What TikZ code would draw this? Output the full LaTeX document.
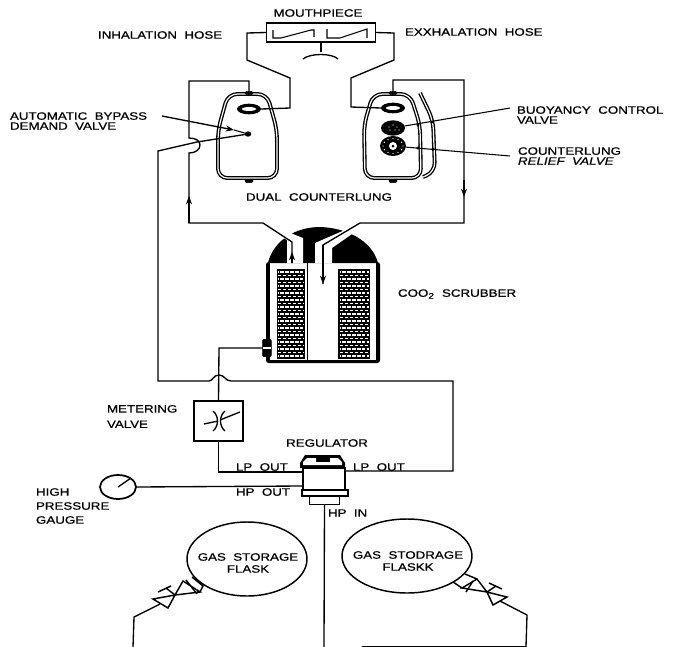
\documentclass[tikz,border=0pt]{standalone}
\usepackage{fontspec}
\setmainfont[FakeStretch=1.25,FakeBold=0.8]{Liberation Sans}
\usetikzlibrary{arrows.meta,shapes.geometric}
\begin{document}
\begin{tikzpicture}[x=0.75pt,y=-0.75pt,
  every node/.style = {inner sep=0pt, outer sep=0pt},
  lbl/.style = {font=\fontsize{8}{7.5}\selectfont, align=left},
  pipe/.style = {line width=1pt, line join=miter},
  arr/.style = {-{Stealth[length=2.2mm,width=1.6mm]}, line width=1pt},
  thinline/.style = {line width=0.8pt},
  wall/.style = {double, double distance=0.9pt, line width=1pt, rounded corners=7pt},
  part/.style = {draw, line width=1.1pt, fill=white},
  knob/.style = {draw, fill=black, rounded corners=1pt, minimum width=6pt, minimum height=2.4pt},
  bead/.style = {ellipse, fill=black, minimum width=18pt, minimum height=8pt},
  flask/.style = {align=center, font=\fontsize{8}{9}\selectfont},
]
\useasboundingbox (0,0) rectangle (676,647);

\node[part, minimum width=82pt, minimum height=14pt] (mouth) at (321,32.5) {};
\draw[thinline] (273,30) -- (273,38) -- (281,38) -- (311,30) -- (314,30) -- (314,37);
\draw[thinline] (327,29) -- (327,38) -- (340,38) -- (367,29) -- (367,38);
\coordinate (bite) at (321,52);
\draw[pipe] (mouth.south) -- (bite);
\draw[pipe] (303,59) .. controls (310,53) and (332,53) .. (338,59);

\draw[wall] (249,94) -- (267,94) -- (277,130) -- (277,178) -- (218,178) -- (218,130) -- (228,94) -- cycle;
\draw[wall] (392,94) -- (410,94) -- (420,125) -- (421,178) -- (365,178) -- (364,125) -- (373,94) -- cycle;
\draw[wall] (420,93) -- (433,120) -- (435,172) -- (423,177);

\node[knob] (topL) at (249,93) {};
\node[knob] (topR) at (393,93) {};
\node[knob] (footL) at (249,181) {};
\node[knob] (footR) at (393,181) {};
\node[bead] (valveL) at (249,109) {};
\node[bead] (valveR) at (393,108) {};
\fill[white] (valveL) ellipse (7 and 2);
\fill[white] (valveR) ellipse (7 and 2);
\node[ellipse, fill=black, minimum width=5pt, minimum height=4pt] (demand) at (248,134) {};
\node[ellipse, fill=black, minimum width=18pt, minimum height=11.5pt] (buoy) at (393,128) {};
\foreach \dx/\dy in {-4/-1,0/-3,4/-1,-3/2,2/2,6/2}
  \fill[white] (393+\dx,128+\dy) circle (0.7);
\node[ellipse, fill=black, minimum width=19.5pt, minimum height=15pt] (relief) at (393,146) {};
\foreach \a in {0,30,...,330}
  \fill[white] (393,146) ++(\a:10 and 7.5) circle (0.7);
\fill[white] (393,146) circle (4);
\fill[black] (393,146) circle (1.5);

\draw[pipe] (mouth.west) -- (247,33) -- (247,60) -- (290,78) -- (290,108) -- (valveL.east);
\draw[pipe] (mouth.east) -- (394,33) -- (394,60) -- (351,78) -- (351,107) -- (valveR.west);

\fill[black, rounded corners=2pt] (266,262) rectangle (380,363);
\fill[white] (270,263) rectangle (376,360);
\fill[black] (268,263) .. controls (272,245) and (290,228) .. (318,227) .. controls (345,227) and (372,240) .. (378,263) -- cycle;
\fill[white] (287,263) -- (287,240) -- (280,236) -- (288,232) -- (303,238) -- (303,263) -- cycle;
\fill[white] (315,263) -- (315,243) -- (345,230) -- (352,234) -- (332,248) -- (332,263) -- cycle;
\draw[line width=0.5pt] (307,263) -- (307,360);
\node[fill=black, minimum width=21pt, minimum height=67pt] (bedL) at (291,314) {};
\node[fill=black, minimum width=24pt, minimum height=67pt] (bedR) at (354,314) {};
\foreach \cx/\cw in {278/26,340/29}
  \foreach \y [count=\i] in {272,275.5,...,358} {
    \pgfmathsetmacro\off{mod(\i,2)*2}
    \draw[white, line width=0.9pt, dash pattern=on 2.6pt off 1.1pt, dash phase=\off pt] (\cx,\y) -- ++(\cw,0);
  }
\node[knob, minimum width=6.5pt, minimum height=13pt] (port) at (267,348) {};
\fill[white] (263,347) rectangle (271,349);

\coordinate (inL) at (292,263);
\coordinate (inR) at (323,284);
\coordinate (crossL) at (189,223);
\coordinate (crossR) at (464,223);
\draw[pipe] (topL) -- (249,81) -- (189,81) -- (189,138) .. controls (196,138) and (200,141) .. (200,145) .. controls (200,150) and (195,153) .. (189,153) -- (crossL) -- (263,223) -- (292,242) -- (inL);
\draw[arr] (crossL) -- (189,196);
\draw[arr] (inL) -- (292,252);
\draw[pipe] (topR) -- (393,80) -- (464,80) -- (crossR) -- (360,223) -- (323,245) -- (inR);
\draw[arr] (464,180) -- (464,197);
\draw[arr] (323,245) -- (inR);

\node[part, minimum width=37pt, minimum height=30pt] (meter) at (218.5,421) {};
\draw[line width=1pt] (213,411) .. controls (219,416) and (219,426) .. (213,431);
\draw[line width=1pt] (225,411) .. controls (219,416) and (219,426) .. (225,431);
\draw[line width=1pt] (204,424) -- (218,421);
\draw[line width=1pt] (220,420) -- (240,412);

\node[part, minimum width=31.5pt, minimum height=16.5pt] (regbody) at (324,479) {};
\fill[black] (300,468) -- (300,463) -- (305,455) -- (340,455) -- (345,463) -- (345,468) -- cycle;
\fill[white] (303,465) -- (303,462) -- (307,458) -- (316,458) -- (316,462) -- (330,462) -- (330,458) -- (338,458) -- (342,462) -- (342,465) -- cycle;
\node[part, line width=1.4pt, minimum width=34pt, minimum height=4.5pt] (regbase) at (325,493) {};
\node[part, line width=0.9pt, minimum width=23pt, minimum height=6pt] (regfoot) at (324.5,500.5) {};

\coordinate (lpL) at (303,472);
\coordinate (lpR) at (345,471);
\coordinate (hpL) at (303,486);
\draw[pipe] (port.west) -- (219,348) -- (meter.north);
\draw[pipe] (meter.south) -- (218.5,472) -- (lpL);
\draw[pipe] (demand) -- (197,142) -- (158,151) -- (158,381) -- (209,381) .. controls (213,381) and (213,375) .. (219,375) .. controls (225,375) and (225,381) .. (231,381) -- (453,381) -- (453,471) -- (lpR);

\node[ellipse, part, line width=1.3pt, minimum width=27pt, minimum height=18pt] (gauge) at (118,487) {};
\draw[line width=1pt] (gauge.center) -- (131,478);
\draw[pipe] (gauge.east) -- (hpL);

\node[flask] (flaskL) at (248,563) {GAS\ \ STORAGE\\FLASK};
\node[flask] (flaskR) at (408,561) {GAS\ \ STODRAGE\\FLASKK};
\draw[line width=1.1pt] (247,559) ellipse (60 and 37);
\draw[line width=1.1pt] (407,556) ellipse (65 and 37);
\coordinate (feed) at (324,647);
\draw[pipe] (regfoot.south) -- (feed);

\draw[line width=1.1pt, fill=white] (175,595) -- (153,599) -- (168,608) -- cycle;
\draw[line width=1.1pt, fill=white] (175,595) -- (183,581) -- (200,592) -- cycle;
\draw[line width=1.1pt] (186,580) -- (197,594);
\draw[line width=1.1pt] (192,577) -- (203,586) -- (200,592);
\draw[line width=1.1pt] (175,595) -- (166,588);
\draw[line width=1.1pt] (158,592) -- (171,586);
\draw[line width=1.1pt, fill=white] (487,592) -- (507,597) -- (493,605) -- cycle;
\draw[line width=1.1pt, fill=white] (487,592) -- (477,579) -- (462,588) -- cycle;
\draw[line width=1.1pt] (473,581) -- (466,592);
\draw[line width=1.1pt] (465,574) -- (477,579);
\draw[line width=1.1pt] (453,582) -- (462,588);
\draw[line width=1.1pt] (487,592) -- (496,586);
\draw[line width=1.1pt] (489,583) -- (502,589);
\draw[pipe] (160,604) -- (134,617) -- (133,647);
\draw[pipe] (500,601) -- (527,615) -- (526,647);
\draw[thinline] (526,646.6) -- (362,646.6);

\node[lbl] (mouthlbl) at (318,13) {MOUTHPIECE};
\node[lbl, anchor=west] (inhale) at (98,35) {INHALATION\ \ HOSE};
\node[lbl, anchor=west] (exhale) at (405,32) {EXXHALATION\ \ HOSE};
\node[lbl, anchor=west] (bypass) at (10,121) {AUTOMATIC\ \ BYPASS\\DEMAND\ \ VALVE};
\node[lbl, anchor=west] (buoylbl) at (517,115) {BUOYANCY\ \ CONTROL\\VALVE};
\node[lbl, anchor=west] (relieflbl) at (518,156) {COUNTERLUNG\\\textit{RELIEF\ \ VALVE}};
\node[lbl] (dual) at (319,197) {DUAL\ \ COUNTERLUNG};
\node[lbl, anchor=west] (scrub) at (398,294) {COO\textsubscript{2}\ \ SCRUBBER};
\node[lbl, anchor=west] (meterlbl) at (107,416.5) {METERING\\[4pt]VALVE};
\node[lbl] (reglbl) at (327,443) {REGULATOR};
\node[lbl, anchor=west] (lpoutL) at (236,467) {LP\ \ OUT};
\node[lbl, anchor=west] (lpoutR) at (353,467) {LP\ \ OUT};
\node[lbl, anchor=west] (hpout) at (236,492) {HP\ \ OUT};
\node[lbl, anchor=west] (hpin) at (328,513) {HP\ \ IN};
\node[lbl, anchor=west] (gaugelbl) at (36,506) {HIGH\\[3pt]PRESSURE\\[3pt]GAUGE};

\coordinate (bypassend) at (162,116);
\coordinate (buoyend) at (510,108);
\coordinate (reliefend) at (510,156);
\draw[arr] (bypassend) -- (234,130);
\draw[thinline] (234,130) -- (demand);
\draw[thinline] (buoyend) -- (buoy);
\draw[thinline] (reliefend) -- (relief);
\fill (418,125) circle (1.6) (432,122) circle (1.6) (418,148) circle (1.6) (433,149) circle (1.6);
\end{tikzpicture}
\end{document}
